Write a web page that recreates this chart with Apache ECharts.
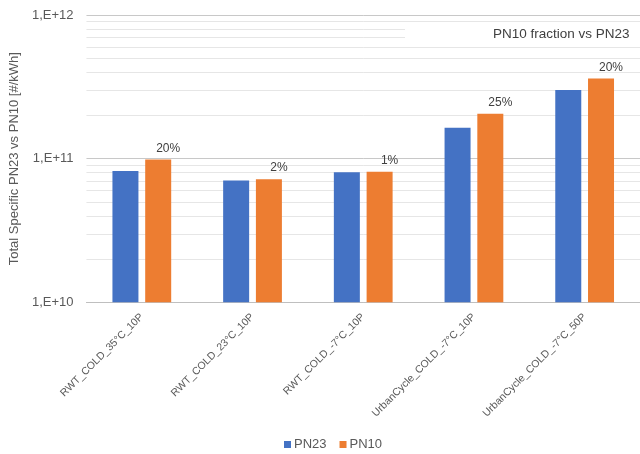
<!DOCTYPE html>
<html>
<head>
<meta charset="utf-8">
<script src="https://cdn.jsdelivr.net/npm/echarts@6/dist/echarts.min.js"></script>
<style>
  html, body { margin: 0; padding: 0; background: #ffffff; }
  #chart { width: 640px; height: 454px; }
</style>
</head>
<body>
<div id="chart"></div>
<script>
// Test cycles
const categories = [
  'RWT_COLD_35°C_10P',
  'RWT_COLD_23°C_10P',
  'RWT_COLD_-7°C_10P',
  'UrbanCycle_COLD_-7°C_10P',
  'UrbanCycle_COLD_-7°C_50P'
];
// Total specific particle number [#/kWh]
const pn23 = [8.2e10, 7.05e10, 8.03e10, 1.64e11, 3.01e11];
const pn10 = [9.85e10, 7.2e10, 8.1e10, 2.05e11, 3.62e11];

// Axis range (decades)
const yMin = 1e10;
const yMax = 1e12;

// Minor gridlines at 2..9 within each decade
const minorLines = [];
for (let d = yMin; d < yMax; d *= 10) {
  for (let k = 2; k <= 9; k++) minorLines.push({ yAxis: k * d });
}

// Extra PN10 share relative to PN23, shown above the PN10 bars
const fractionText = pn10.map((v, i) => Math.round((v / pn23[i] - 1) * 100) + '%');

const chart = echarts.init(document.getElementById('chart'), null, { renderer: 'canvas' });

const font = 'Liberation Sans';

chart.setOption({
  backgroundColor: '#ffffff',
  animation: false,
  textStyle: { fontFamily: font },
  grid: { left: 86, top: 15, width: 562, height: 287.3 },
  graphic: [
    {
      // white text box behind the annotation
      type: 'rect',
      z: 100,
      shape: { x: 405, y: 26, width: 235, height: 15 },
      style: { fill: '#ffffff' }
    },
    {
      type: 'text',
      z: 101,
      x: 493,
      y: 27,
      style: { text: 'PN10 fraction vs PN23', font: '13.5px ' + font, fill: '#404040' }
    }
  ],
  legend: {
    left: 279,
    top: 433,
    itemWidth: 7,
    itemHeight: 7,
    itemGap: 13,
    icon: 'rect',
    textStyle: { fontFamily: font, fontSize: 13, color: '#595959', padding: [0, 0, 0, -2] },
    data: ['PN23', 'PN10']
  },
  xAxis: {
    type: 'category',
    data: categories,
    axisLine: { show: true, lineStyle: { color: '#bfbfbf', width: 1 } },
    axisTick: { show: false },
    axisLabel: { rotate: 45, margin: 13, fontSize: 10.5, color: '#595959', fontFamily: font, interval: 0 },
    splitLine: { show: false }
  },
  yAxis: {
    type: 'log',
    logBase: 10,
    min: yMin,
    max: yMax,
    name: 'Total Specific PN23 vs PN10 [#/kWh]',
    nameLocation: 'middle',
    nameGap: 57,
    nameTextStyle: { fontSize: 13, color: '#595959', fontFamily: font },
    axisLine: { show: false },
    axisTick: { show: false },
    axisLabel: {
      fontSize: 13, color: '#595959', fontFamily: font, margin: 13,
      formatter: v => '1,E+' + Math.round(Math.log10(v))
    },
    splitLine: { show: true, lineStyle: { color: '#c8c8c8', width: 1 } }
  },
  series: [
    {
      name: 'PN23',
      type: 'bar',
      data: pn23,
      barWidth: 26,
      barGap: '26%',
      z: 2,
      itemStyle: { color: '#4472C4' },
      markLine: {
        silent: true,
        z: 1,
        symbol: 'none',
        label: { show: false },
        lineStyle: { color: '#e6e6e6', width: 1, type: 'solid' },
        data: minorLines
      }
    },
    {
      name: 'PN10',
      type: 'bar',
      data: pn10,
      barWidth: 26,
      z: 2,
      itemStyle: { color: '#ED7D31' },
      label: {
        show: true,
        position: 'top',
        distance: 5,
        offset: [10, 0],
        fontSize: 12,
        color: '#404040',
        fontFamily: font,
        formatter: p => fractionText[p.dataIndex]
      }
    }
  ]
});
</script>
</body>
</html>
